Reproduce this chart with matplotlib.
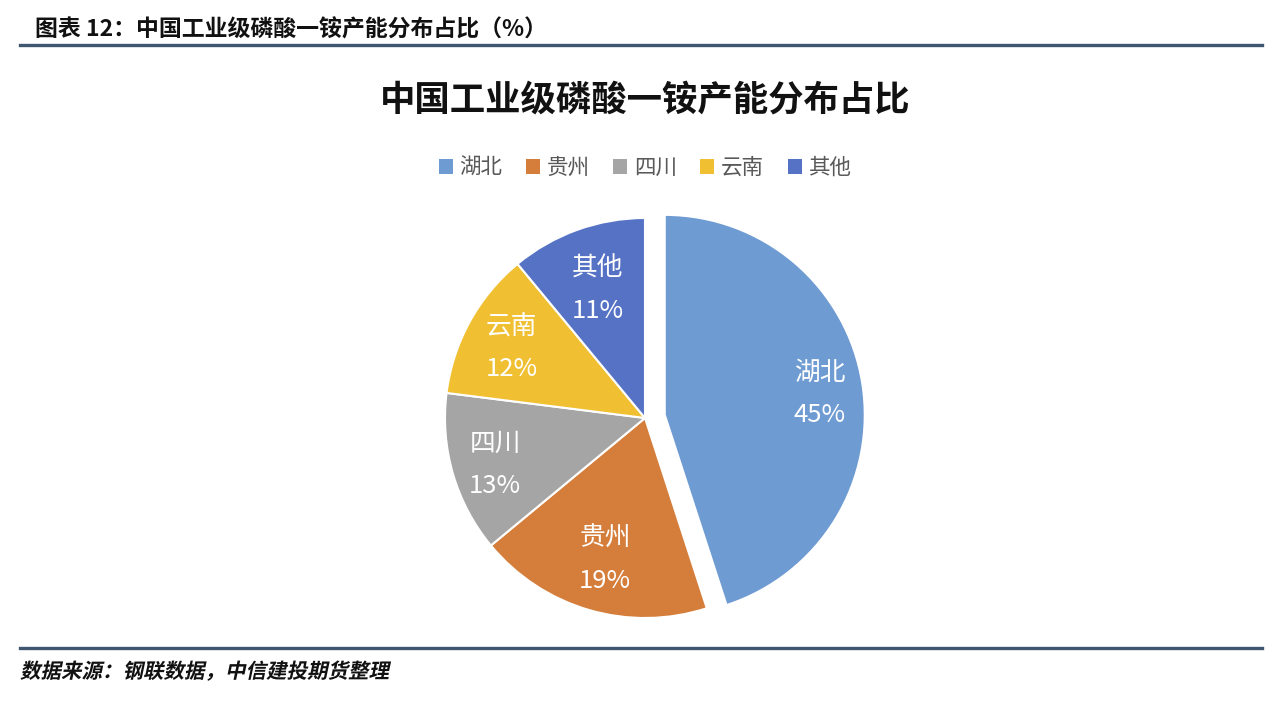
import matplotlib
matplotlib.use('Agg')
import numpy as np
import matplotlib.pyplot as plt
from matplotlib.patches import Patch, PathPatch
from matplotlib.lines import Line2D
from matplotlib.textpath import TextPath
from matplotlib.font_manager import FontProperties
from matplotlib.transforms import Affine2D, IdentityTransform

plt.rcParams['font.family'] = ['Noto Sans CJK SC', 'DejaVu Sans']

regions = ['湖北', '贵州', '四川', '云南', '其他']
shares = [45, 19, 13, 12, 11]
colors = ['#6F9BD3', '#D57D3A', '#A5A5A5', '#F0C032', '#5572C5']
explode = [0.1, 0, 0, 0, 0]
label_r = [0.785, 0.72, 0.78, 0.76, 0.70]   # label distance per wedge (best-fit look)

header = '图表 12：中国工业级磷酸一铵产能分布占比（%）'
title = '中国工业级磷酸一铵产能分布占比'
source = '数据来源：钢联数据，中信建投期货整理'

W, H = 1280, 708
fig = plt.figure(figsize=(W / 100, H / 100), dpi=100)
fig.patch.set_facecolor('white')

# header / footer with rules
fig.text(35 / W, 1 - 30 / H, header, fontsize=16.5, fontweight='bold', va='center', ha='left', color='#111111')
fig.add_artist(Line2D([20 / W, 1262 / W], [1 - 45 / H, 1 - 45 / H], color='#3F5671', lw=2.4))
fig.add_artist(Line2D([20 / W, 1262 / W], [1 - 648 / H, 1 - 648 / H], color='#3F5671', lw=2.4))

# footer in slanted bold (CJK font has no italic face)
tp = TextPath((0, 0), source, size=20.5, prop=FontProperties(family='Noto Sans CJK SC', weight='bold'))
tr = Affine2D().skew_deg(12, 0).translate(20, H - 678) + IdentityTransform()
fig.add_artist(PathPatch(tp, transform=tr, facecolor='#111111', edgecolor='none'))

fig.text(645 / W, 1 - 100 / H, title, fontsize=25.5, fontweight='bold', ha='center', va='center', color='#111111')

# pie: centre at (645, 418) px, radius 200 px
cx, cy, r = 645, 418, 200
box = 1.1 * r
ax = fig.add_axes([(cx - box) / W, (H - cy - box) / H, 2 * box / W, 2 * box / H])

wedges, _ = ax.pie(shares, colors=colors, explode=explode, startangle=90, counterclock=False,
                   radius=1, wedgeprops=dict(edgecolor='white', linewidth=1.5))
for w, n, v, lr in zip(wedges, regions, shares, label_r):
    ang = np.deg2rad((w.theta1 + w.theta2) / 2)
    x0, y0 = w.center
    ax.text(x0 + lr * np.cos(ang), y0 + lr * np.sin(ang) - 0.018, f'{n}\n{v}%', color='white',
            fontsize=18.5, ha='center', va='center', linespacing=1.8)
ax.set_xlim(-1.1, 1.1)
ax.set_ylim(-1.1, 1.1)
ax.set_aspect('equal')
ax.axis('off')

handles = [Patch(facecolor=c, edgecolor='none') for c in colors]
fig.legend(handles, regions, loc='center', bbox_to_anchor=(645 / W, 1 - 168 / H), ncol=5, frameon=False,
           fontsize=15.5, handlelength=0.65, handleheight=0.65, handletextpad=0.3, columnspacing=1.1,
           labelcolor='#595959')

fig.savefig('out.png', dpi=100)
